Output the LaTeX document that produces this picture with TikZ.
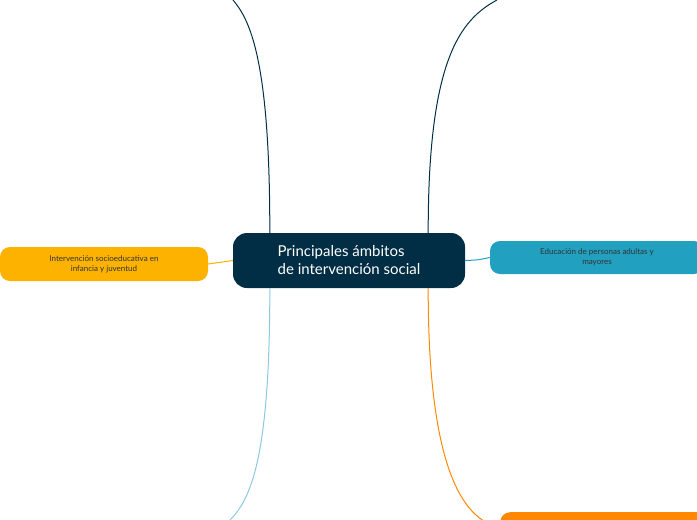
\documentclass[tikz,border=0pt]{standalone}
\usepackage{fontspec}
\setmainfont{Lato}
\definecolor{mainblue}{RGB}{2,46,69}
\definecolor{tealb}{RGB}{34,160,191}
\definecolor{yellowb}{RGB}{253,178,0}
\definecolor{orangeb}{RGB}{255,136,0}
\definecolor{lightb}{RGB}{140,200,225}
\begin{document}
\begin{tikzpicture}[x=1pt,y=-1pt]
    \tikzset{topic/.style={rounded corners=10pt,inner sep=0pt,align=center,font=\fontsize{8}{10}\selectfont}}
    \useasboundingbox (0,0) rectangle (697,520);
    \node [topic,fill=mainblue,text=white,rounded corners=14pt,minimum width=232pt,minimum height=55pt,font=\fontsize{15}{18}\selectfont,align=left] (root) at (349,260.5) {Principales ámbitos\\de intervención social};
    \node [topic,fill=yellowb,text=black!80,minimum width=208pt,minimum height=34pt] (left) at (104,264) {Intervención socioeducativa en\\infancia y juventud};
    \node [topic,fill=tealb,text=black!80,minimum width=214pt,minimum height=33pt] (right) at (597,257.5) {Educación de personas adultas y\\mayores};
    \node [topic,fill=orangeb,minimum width=210pt,minimum height=30pt,anchor=north west] (low) at (500,512) {};
    \coordinate (tl) at (233,0);
    \coordinate (tr) at (497,0);
    \coordinate (bl) at (230,520);
    \draw [mainblue,line width=1pt] (root.north west)++(37,0) .. controls (270,60) and (250,20) .. (tl);
    \draw [mainblue,line width=1pt] (root.north east)++(-37,0) .. controls (428,60) and (460,20) .. (tr);
    \draw [lightb,line width=1pt] (root.south west)++(37,0) .. controls (270,460) and (250,500) .. (bl);
    \draw [orangeb,line width=1pt] (root.south east)++(-37,0) .. controls (428,460) and (460,520) .. (low.west);
    \draw [yellowb,line width=1pt] (root.west) -- (left.east);
    \draw [tealb,line width=1pt] (root.east) .. controls (478,260) .. (right.west);
\end{tikzpicture}
\end{document}
